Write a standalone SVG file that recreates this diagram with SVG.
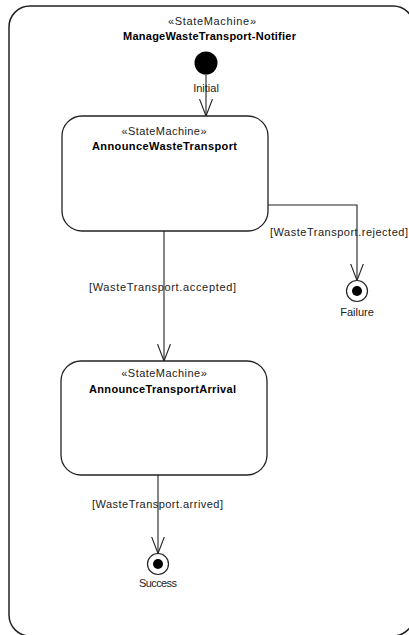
<svg xmlns="http://www.w3.org/2000/svg" width="409" height="635" viewBox="0 0 409 635">
<defs>
<style>
text{font-family:"Liberation Sans",Arial,sans-serif;font-size:11px;fill:#222;text-anchor:middle}
.b{font-weight:bold;fill:#000}
.st{fill:#fff;stroke:#222;stroke-width:1.3}
.ln{fill:none;stroke:#222;stroke-width:1.1}
</style>
<marker id="arr" markerWidth="18" markerHeight="14" refX="17" refY="7" orient="auto" markerUnits="userSpaceOnUse" viewBox="0 0 18 14">
<path d="M0 0.5 L17 7 L0 13.5" fill="none" stroke="#222" stroke-width="1.1"/>
</marker>
</defs>
<g id="frame">
<rect x="9" y="6" width="405" height="630" rx="21" ry="21" fill="#fff" stroke="#222" stroke-width="1.5"/>
<text x="212" y="24.5" textLength="88" lengthAdjust="spacing">«StateMachine»</text>
<text class="b" x="209.5" y="39.5" textLength="173" lengthAdjust="spacing">ManageWasteTransport-Notifier</text>
</g>
<g id="connectors">
<path class="ln" d="M206 74.5 V116" marker-end="url(#arr)"/>
<path class="ln" d="M164 231 V361" marker-end="url(#arr)"/>
<path class="ln" d="M268 205 H357 V280.5" marker-end="url(#arr)"/>
<path class="ln" d="M158 475 V553.5" marker-end="url(#arr)"/>
<text x="162.5" y="290.5" textLength="147" lengthAdjust="spacing">[WasteTransport.accepted]</text>
<text x="339" y="235.5" textLength="138" lengthAdjust="spacing">[WasteTransport.rejected]</text>
<text x="157.5" y="508" textLength="131" lengthAdjust="spacing">[WasteTransport.arrived]</text>
</g>
<g id="initial">
<circle cx="206" cy="63" r="11.5" fill="#000"/>
<text x="206" y="91.5">Initial</text>
</g>
<g id="announceWasteTransport">
<rect class="st" x="62" y="116" width="206" height="115" rx="20" ry="20"/>
<text x="164" y="135" textLength="85" lengthAdjust="spacing">«StateMachine»</text>
<text class="b" x="164.5" y="150" textLength="145" lengthAdjust="spacing">AnnounceWasteTransport</text>
</g>
<g id="announceTransportArrival">
<rect class="st" x="61" y="361" width="206" height="114" rx="20" ry="20"/>
<text x="164" y="377" textLength="85.5" lengthAdjust="spacing">«StateMachine»</text>
<text class="b" x="162.5" y="393" textLength="147" lengthAdjust="spacing">AnnounceTransportArrival</text>
</g>
<g id="failure">
<circle cx="357" cy="291" r="10.5" fill="#fff" stroke="#222" stroke-width="1.2"/>
<circle cx="357" cy="291" r="5" fill="#000"/>
<text x="357" y="316">Failure</text>
</g>
<g id="success">
<circle cx="158" cy="564" r="10.5" fill="#fff" stroke="#222" stroke-width="1.2"/>
<circle cx="158" cy="564" r="5" fill="#000"/>
<text x="158" y="587" textLength="38" lengthAdjust="spacing">Success</text>
</g>
</svg>
